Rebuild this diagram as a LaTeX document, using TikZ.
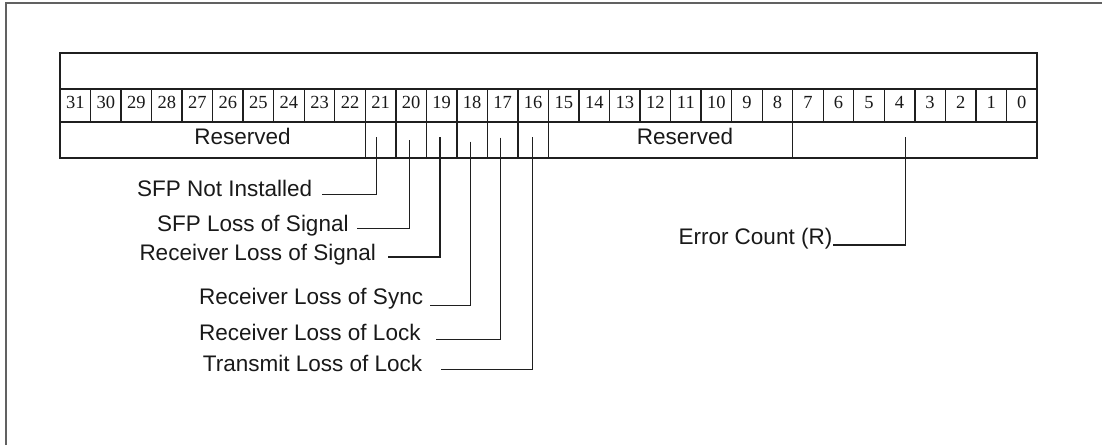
\documentclass[tikz,border=0pt]{standalone}
\usepackage{fontspec}
\setmainfont{Liberation Sans}
\newfontfamily\numfont{Liberation Serif}
\begin{document}
\begin{tikzpicture}[x=1pt,y=-1pt,
  frameline/.style={draw=black!62,line width=2pt},
  regline/.style={draw=black!88,line width=1.4pt},
  leader/.style={draw=black!88,line width=1.3pt},
  bitnum/.style={font=\numfont\fontsize{18.5}{18.5}\selectfont,inner sep=0pt,text=black!90},
  fieldtxt/.style={font=\fontsize{22.5}{26}\selectfont,inner sep=0pt,text=black!90},
  lbl/.style={fieldtxt,anchor=base west}]
\useasboundingbox (0,0) rectangle (1102,445);

% page frame (top and left edges only)
\draw[frameline] (6,445) -- (6,3) -- (1102,3);

% register outline and row separators
\def\cw{30.53}
\draw[regline] (60,53) rectangle (1037,158);
\draw[regline] (60,89) -- (1037,89);
\draw[regline] (60,122) -- (1037,122);

% bit number cells
\foreach \i in {1,...,31}{
  \draw[regline] (60+\i*\cw,89) -- (60+\i*\cw,122);
}
\foreach \i in {0,...,31}{
  \pgfmathtruncatemacro{\bit}{31-\i}
  \node[bitnum] (b\bit) at (60+\i*\cw+0.5*\cw,102.5) {\bit};
}

% field boundaries in the lower row
\foreach \i in {10,...,16,24}{
  \draw[regline] (60+\i*\cw,122) -- (60+\i*\cw,158);
}

% field names inside the register
\node[fieldtxt,anchor=base] (res1) at (242.5,144) {Reserved};
\node[fieldtxt,anchor=base] (res2) at (685,144) {Reserved};

% status bit labels
\node[lbl] (l21) at (137,196.5) {SFP Not Installed};
\node[lbl] (l20) at (157,231) {SFP Loss of Signal};
\node[lbl] (l19) at (139.3,260) {Receiver Loss of Signal};
\node[lbl] (l18) at (199,304.5) {Receiver Loss of Sync};
\node[lbl] (l17) at (199,340) {Receiver Loss of Lock};
\node[lbl] (l16) at (202.7,371.5) {Transmit Loss of Lock};
\node[lbl] (lerr) at (678.3,244.5) {Error Count (R)};

% leader start points inside the bit cells
\coordinate (t21) at (376.3,137.3);
\coordinate (t20) at (409.7,140);
\coordinate (t19) at (440,137.3);
\coordinate (t18) at (470.5,141.7);
\coordinate (t17) at (500.5,137.7);
\coordinate (t16) at (532.5,137.3);
\coordinate (t4)  at (905.7,137);

% leader end points beside the labels
\coordinate (h21) at (321.7,194.3);
\coordinate (h20) at (357.3,228.3);
\coordinate (h19) at (387.7,257);
\coordinate (h18) at (430,305.7);
\coordinate (h17) at (435.7,339.3);
\coordinate (h16) at (441,369.3);
\coordinate (herr) at (833,245);

% leaders
\foreach \k in {21,20,19,18,17,16}{
  \draw[leader] (t\k) |- (h\k);
}
\draw[leader] (t4) |- (herr);
\end{tikzpicture}
\end{document}
